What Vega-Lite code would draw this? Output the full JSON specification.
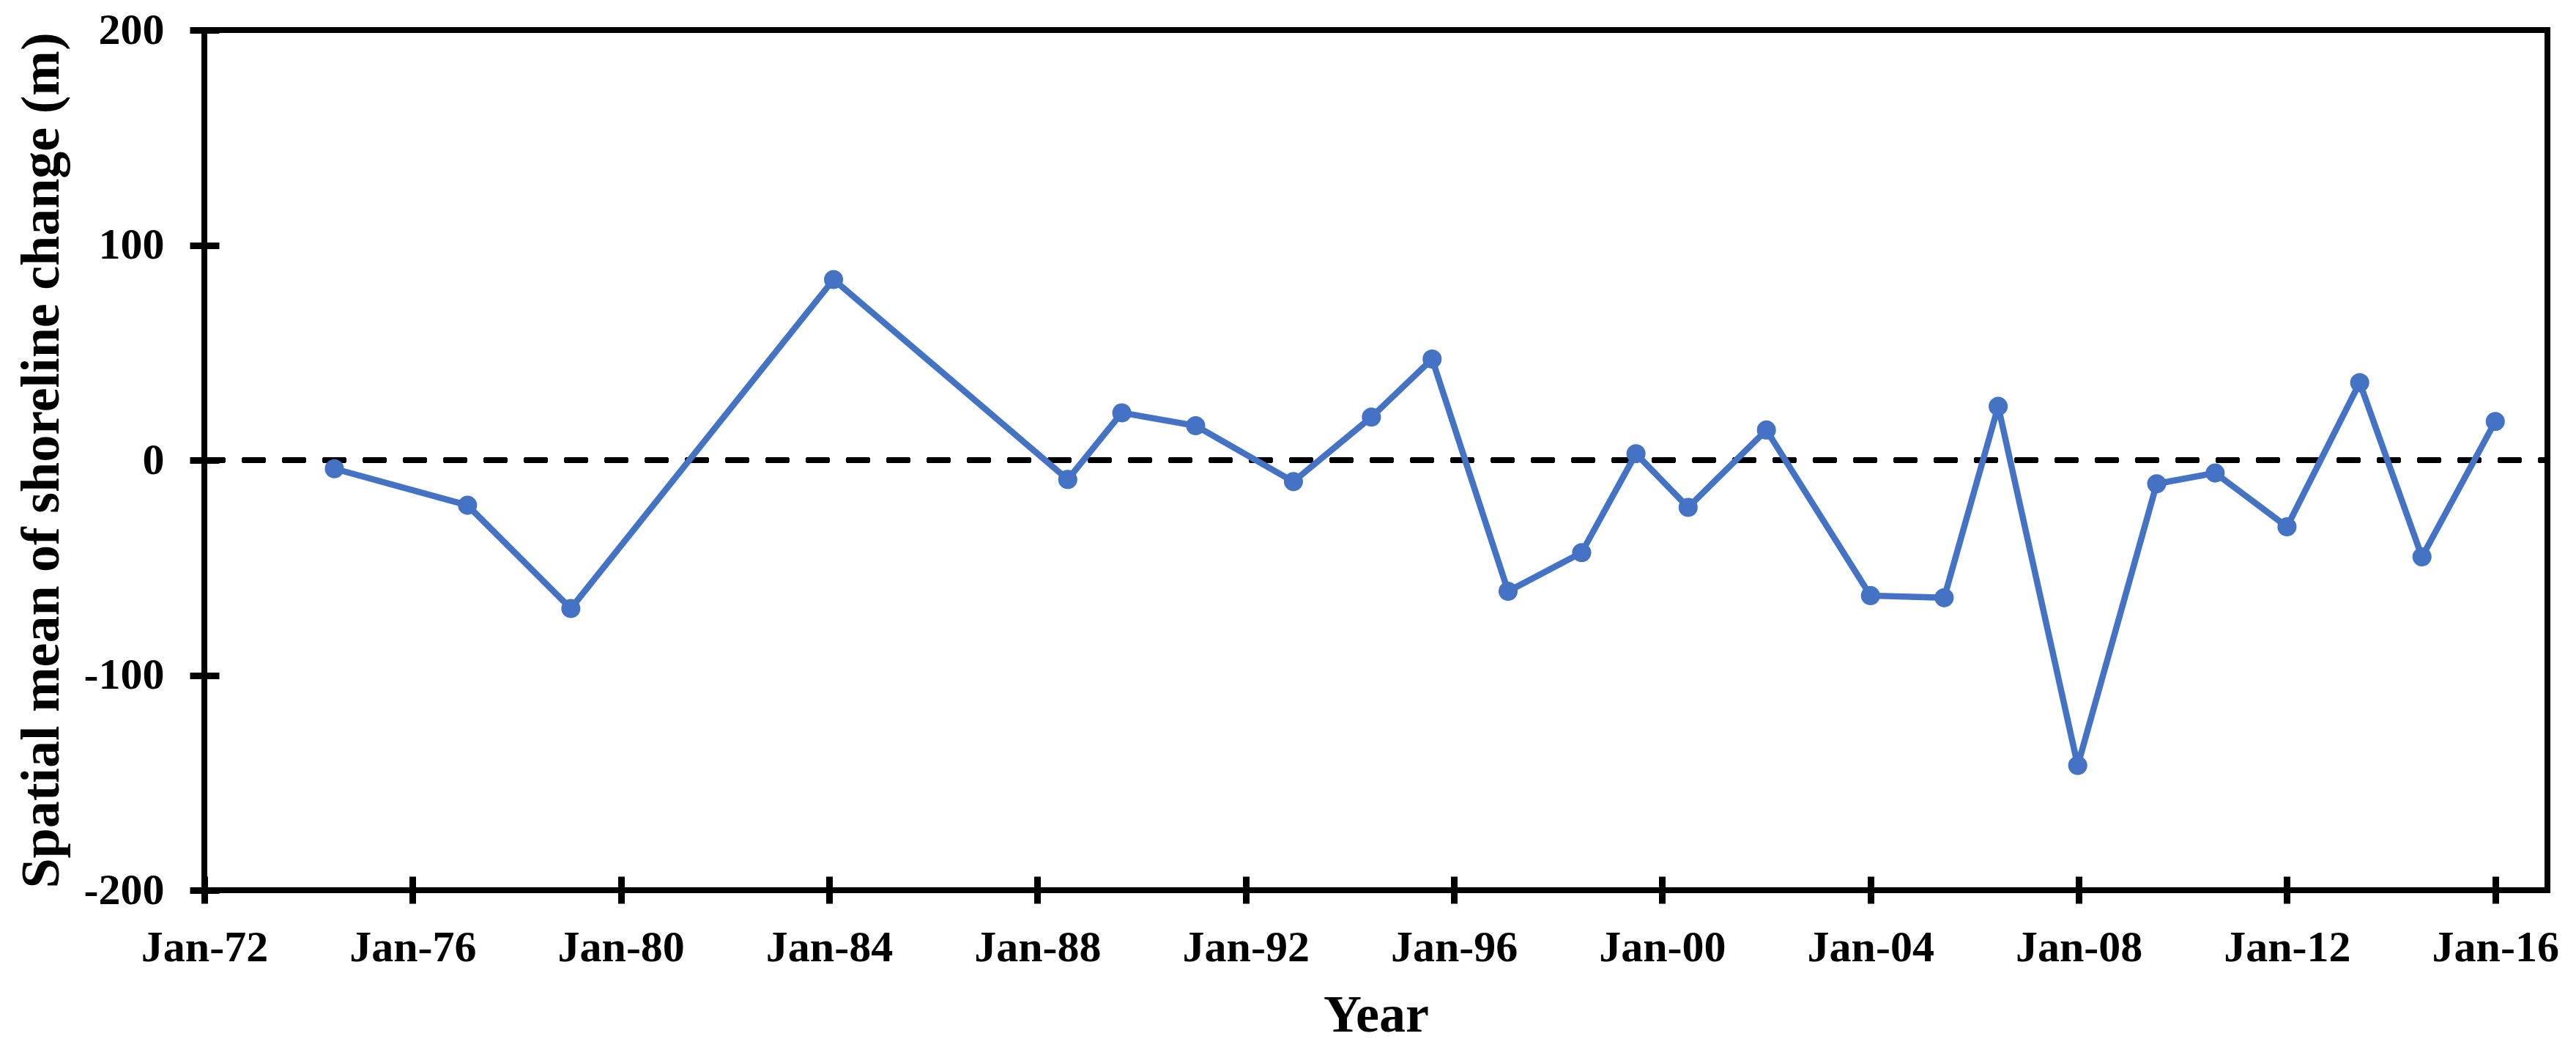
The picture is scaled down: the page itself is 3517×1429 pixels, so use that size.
{
  "$schema": "https://vega.github.io/schema/vega-lite/v6.json",
  "width": 3199,
  "height": 1174,
  "autosize": {"type": "none"},
  "padding": {"left": 279, "top": 41, "right": 39, "bottom": 214},
  "background": "white",
  "config": {
    "view": {"stroke": "black", "strokeWidth": 8},
    "axis": {
      "labelFont": "Liberation Serif",
      "labelFontWeight": "bold",
      "labelFontSize": 60,
      "labelColor": "black",
      "titleFont": "Liberation Serif",
      "titleFontWeight": "bold",
      "titleColor": "black",
      "domain": false,
      "tickColor": "black",
      "tickWidth": 9,
      "grid": false
    }
  },
  "data": {
    "values": [
      {"date": "1974-07-01", "change": -4},
      {"date": "1977-01-20", "change": -21},
      {"date": "1979-01-15", "change": -69},
      {"date": "1984-02-01", "change": 84},
      {"date": "1988-08-01", "change": -9},
      {"date": "1989-08-15", "change": 22},
      {"date": "1991-01-15", "change": 16},
      {"date": "1992-12-01", "change": -10},
      {"date": "1994-06-01", "change": 20},
      {"date": "1995-08-01", "change": 47},
      {"date": "1997-01-15", "change": -61},
      {"date": "1998-06-15", "change": -43},
      {"date": "1999-07-01", "change": 3},
      {"date": "2000-07-01", "change": -22},
      {"date": "2002-01-01", "change": 14},
      {"date": "2004-01-01", "change": -63},
      {"date": "2005-06-01", "change": -64},
      {"date": "2006-06-15", "change": 25},
      {"date": "2007-12-25", "change": -142},
      {"date": "2009-07-01", "change": -11},
      {"date": "2010-08-15", "change": -6},
      {"date": "2012-01-01", "change": -31},
      {"date": "2013-05-25", "change": 36},
      {"date": "2014-08-05", "change": -45},
      {"date": "2016-01-01", "change": 18}
    ]
  },
  "encoding": {
    "x": {
      "field": "date",
      "type": "temporal",
      "scale": {"type": "utc", "domain": ["1972-01-01", "2017-01-01"], "nice": false},
      "axis": {
        "title": "Year",
        "titleFontSize": 72,
        "titleY": 211,
        "titleBaseline": "alphabetic",
        "offset": -19,
        "tickSize": 37,
        "labelBaseline": "alphabetic",
        "labelPadding": 78,
        "values": ["1972-01-01", "1976-01-01", "1980-01-01", "1984-01-01", "1988-01-01", "1992-01-01", "1996-01-01", "2000-01-01", "2004-01-01", "2008-01-01", "2012-01-01", "2016-01-01"],
        "labelExpr": "utcFormat(datum.value, '%b-%y')",
        "labelOverlap": false,
        "labelFlush": false
      }
    },
    "y": {
      "field": "change",
      "type": "quantitative",
      "scale": {"domain": [-200, 200], "nice": false, "zero": false},
      "axis": {
        "title": "Spatial mean of shoreline change (m)",
        "titleFontSize": 74,
        "titleAngle": -90,
        "titleX": -220,
        "titleBaseline": "alphabetic",
        "offset": -20,
        "tickSize": 40,
        "labelPadding": 35,
        "values": [-200, -100, 0, 100, 200],
        "labelExpr": "'' + datum.value",
        "labelFlush": false
      }
    }
  },
  "layer": [
    {
      "mark": {"type": "rule", "color": "black", "strokeWidth": 8, "strokeDash": [25, 30], "strokeCap": "round"},
      "encoding": {"y": {"datum": 0}, "x": {"value": 0}, "x2": {"value": 3199}}
    },
    {
      "mark": {"type": "line", "color": "#4472C4", "strokeWidth": 8.5, "point": {"filled": true, "size": 680, "color": "#4472C4", "opacity": 1}}
    }
  ]
}
